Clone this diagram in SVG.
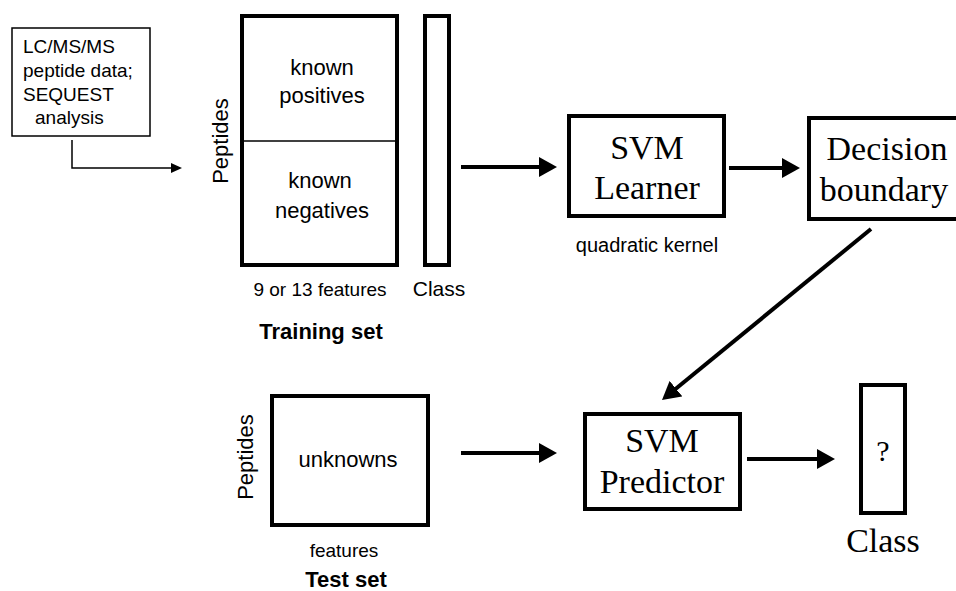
<svg xmlns="http://www.w3.org/2000/svg" width="956" height="591" viewBox="0 0 956 591">
<style>
.sans{font-family:"Liberation Sans",Arial,sans-serif;fill:#000}
.serif{font-family:"Liberation Serif","Times New Roman",serif;fill:#000}
.thick{fill:#fff;stroke:#000;stroke-width:4}
.thin{fill:#fff;stroke:#000;stroke-width:1.5}
.conn{fill:none;stroke:#000;stroke-width:4}
.connthin{fill:none;stroke:#000;stroke-width:1.5}
</style>
<defs>
<marker id="ah" markerUnits="userSpaceOnUse" markerWidth="18" markerHeight="20" refX="14" refY="10" orient="auto">
<path d="M0,0 L18,10 L0,20 z" fill="#000"/>
</marker>
<marker id="ahs" markerUnits="userSpaceOnUse" markerWidth="11" markerHeight="10" refX="9" refY="5" orient="auto">
<path d="M0,0 L11,5 L0,10 z" fill="#000"/>
</marker>
</defs>
<rect width="956" height="591" fill="#fff"/>

<g id="lcms">
<rect class="thin" x="12" y="28" width="138" height="108"/>
<text class="sans" font-size="19" x="23" y="53">LC/MS/MS</text>
<text class="sans" font-size="19" x="23" y="77">peptide data;</text>
<text class="sans" font-size="19" x="23" y="101">SEQUEST</text>
<text class="sans" font-size="19" x="35" y="124">analysis</text>
</g>

<g id="training-set">
<rect class="thick" x="242" y="16" width="155" height="249"/>
<line x1="244" y1="141" x2="395" y2="141" stroke="#000" stroke-width="1.5"/>
<text class="sans" font-size="22" text-anchor="middle" x="322" y="75">known</text>
<text class="sans" font-size="22" text-anchor="middle" x="322" y="103">positives</text>
<text class="sans" font-size="22" text-anchor="middle" x="320" y="188">known</text>
<text class="sans" font-size="22" text-anchor="middle" x="322" y="218">negatives</text>
<text class="sans" font-size="22" text-anchor="middle" transform="translate(228,141) rotate(-90)">Peptides</text>
<text class="sans" font-size="19" text-anchor="middle" x="320" y="296">9 or 13 features</text>
<text class="sans" font-size="22" font-weight="bold" text-anchor="middle" x="321" y="339">Training set</text>
</g>

<g id="training-class">
<rect class="thick" x="425" y="16" width="24" height="249"/>
<text class="sans" font-size="21" text-anchor="middle" x="439" y="296">Class</text>
</g>

<g id="svm-learner">
<rect class="thick" x="569" y="116" width="155" height="100"/>
<text class="serif" font-size="34" text-anchor="middle" x="647" y="159">SVM</text>
<text class="serif" font-size="34" text-anchor="middle" x="647" y="199">Learner</text>
<text class="sans" font-size="20" text-anchor="middle" x="647" y="252">quadratic kernel</text>
</g>

<g id="decision-boundary">
<rect class="thick" x="809" y="118" width="170" height="101"/>
<text class="serif" font-size="34" text-anchor="middle" x="887" y="160">Decision</text>
<text class="serif" font-size="34" text-anchor="middle" x="884" y="201">boundary</text>
</g>

<g id="test-set">
<rect class="thick" x="272" y="396" width="156" height="129"/>
<text class="sans" font-size="22" text-anchor="middle" x="348" y="467">unknowns</text>
<text class="sans" font-size="22" text-anchor="middle" transform="translate(253,457) rotate(-90)">Peptides</text>
<text class="sans" font-size="19" text-anchor="middle" x="344" y="557">features</text>
<text class="sans" font-size="22" font-weight="bold" text-anchor="middle" x="346" y="587">Test set</text>
</g>

<g id="svm-predictor">
<rect class="thick" x="585" y="414" width="155" height="95"/>
<text class="serif" font-size="34" text-anchor="middle" x="662" y="452">SVM</text>
<text class="serif" font-size="34" text-anchor="middle" x="662" y="493">Predictor</text>
</g>

<g id="result-class">
<rect class="thick" x="861" y="385" width="44" height="128"/>
<text class="serif" font-size="30" text-anchor="middle" x="883" y="461">?</text>
<text class="serif" font-size="34" text-anchor="middle" x="883" y="552">Class</text>
</g>

<g id="connectors">
<path class="connthin" d="M72,140 V168 H180" marker-end="url(#ahs)"/>
<path class="conn" d="M461,167 H553" marker-end="url(#ah)"/>
<path class="conn" d="M729,168 H796" marker-end="url(#ah)"/>
<path class="conn" d="M871,229 L665.1,397.5" marker-end="url(#ah)"/>
<path class="conn" d="M461,453 H553" marker-end="url(#ah)"/>
<path class="conn" d="M747,459 H831" marker-end="url(#ah)"/>
</g>
</svg>
